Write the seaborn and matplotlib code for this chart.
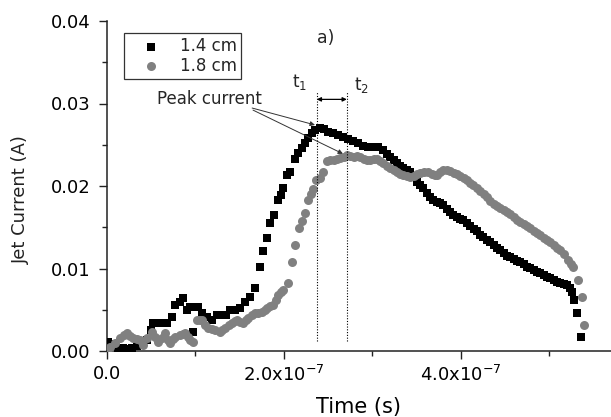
import matplotlib
matplotlib.use("Agg")
import matplotlib.pyplot as plt
import seaborn as sns
import pandas as pd
from matplotlib.ticker import MultipleLocator, FixedLocator

# ---- data (time in units of 1e-7 s, current in A) ----
t_14 = [0.011, 0.068, 0.124, 0.181, 0.237, 0.282, 0.339, 0.395, 0.452, 0.497,
        0.520, 0.576, 0.621, 0.678, 0.734, 0.768, 0.825, 0.859, 0.904, 0.938,
        0.972, 1.028, 1.073, 1.130, 1.186, 1.243, 1.299, 1.345, 1.390, 1.446,
        1.503, 1.559, 1.616, 1.672, 1.729, 1.763, 1.808, 1.842, 1.887, 1.932,
        1.966, 1.989, 2.034, 2.068, 2.124, 2.158, 2.203, 2.237, 2.271, 2.316,
        2.350, 2.407, 2.452, 2.497, 2.554, 2.610, 2.667, 2.723, 2.780, 2.836,
        2.893, 2.949, 3.006, 3.062, 3.119, 3.164, 3.198, 3.243, 3.277, 3.311,
        3.345, 3.390, 3.424, 3.458, 3.503, 3.537, 3.571, 3.616, 3.650, 3.684,
        3.729, 3.763, 3.797, 3.842, 3.876, 3.910, 3.955, 3.989, 4.023, 4.068,
        4.102, 4.147, 4.181, 4.215, 4.249, 4.294, 4.328, 4.373, 4.407, 4.441,
        4.486, 4.520, 4.554, 4.599, 4.633, 4.667, 4.712, 4.746, 4.780, 4.825,
        4.859, 4.893, 4.938, 4.972, 5.006, 5.051, 5.085, 5.119, 5.164, 5.198,
        5.232, 5.254, 5.277, 5.311, 5.356]
i_14 = [0.00109, 0.00085, 0.00036, 0.00036, 0.00024, 0.00036, 0.00061, 0.00109, 0.00133, 0.00255,
        0.00339, 0.00339, 0.00339, 0.00339, 0.00412, 0.00558, 0.00594, 0.00642, 0.00497, 0.00533,
        0.00230, 0.00533, 0.00461, 0.00412, 0.00376, 0.00436, 0.00436, 0.00436, 0.00497, 0.00497,
        0.00521, 0.00594, 0.00655, 0.00764, 0.01018, 0.01212, 0.01370, 0.01552, 0.01648, 0.01830,
        0.01891, 0.01976, 0.02133, 0.02170, 0.02327, 0.02400, 0.02461, 0.02521, 0.02582, 0.02642,
        0.02679, 0.02703, 0.02691, 0.02655, 0.02642, 0.02618, 0.02594, 0.02570, 0.02545, 0.02521,
        0.02485, 0.02473, 0.02473, 0.02473, 0.02436, 0.02388, 0.02352, 0.02315, 0.02279, 0.02242,
        0.02218, 0.02194, 0.02170, 0.02109, 0.02048, 0.02012, 0.01976, 0.01915, 0.01867, 0.01830,
        0.01806, 0.01794, 0.01770, 0.01721, 0.01685, 0.01648, 0.01624, 0.01600, 0.01588, 0.01552,
        0.01515, 0.01479, 0.01455, 0.01406, 0.01382, 0.01345, 0.01321, 0.01285, 0.01248, 0.01224,
        0.01188, 0.01152, 0.01139, 0.01115, 0.01091, 0.01079, 0.01055, 0.01018, 0.01006, 0.00982,
        0.00958, 0.00945, 0.00921, 0.00897, 0.00885, 0.00861, 0.00836, 0.00824, 0.00812, 0.00800,
        0.00764, 0.00715, 0.00618, 0.00461, 0.00170]

t_18 = [0.000, 0.034, 0.090, 0.147, 0.192, 0.226, 0.260, 0.294, 0.339, 0.373,
        0.407, 0.452, 0.508, 0.542, 0.576, 0.621, 0.655, 0.689, 0.712, 0.746,
        0.768, 0.825, 0.859, 0.881, 0.915, 0.938, 0.972, 1.017, 1.051, 1.073,
        1.107, 1.141, 1.186, 1.220, 1.277, 1.299, 1.333, 1.379, 1.412, 1.446,
        1.469, 1.503, 1.537, 1.571, 1.593, 1.638, 1.672, 1.706, 1.751, 1.785,
        1.808, 1.842, 1.876, 1.910, 1.932, 1.966, 1.989, 2.045, 2.090, 2.124,
        2.169, 2.203, 2.237, 2.271, 2.305, 2.328, 2.362, 2.407, 2.441, 2.486,
        2.520, 2.565, 2.599, 2.633, 2.678, 2.712, 2.746, 2.791, 2.825, 2.859,
        2.904, 2.938, 2.972, 3.017, 3.051, 3.085, 3.119, 3.164, 3.198, 3.243,
        3.277, 3.311, 3.345, 3.390, 3.424, 3.469, 3.503, 3.537, 3.582, 3.627,
        3.672, 3.706, 3.729, 3.763, 3.797, 3.842, 3.876, 3.921, 3.955, 3.989,
        4.034, 4.068, 4.102, 4.136, 4.181, 4.215, 4.260, 4.294, 4.328, 4.373,
        4.407, 4.441, 4.486, 4.520, 4.554, 4.599, 4.633, 4.667, 4.712, 4.746,
        4.780, 4.825, 4.859, 4.893, 4.938, 4.972, 5.006, 5.051, 5.085, 5.119,
        5.164, 5.209, 5.243, 5.266, 5.322, 5.367, 5.390]
i_18 = [0.00024, 0.00048, 0.00097, 0.00158, 0.00194, 0.00218, 0.00182, 0.00158, 0.00145, 0.00133,
        0.00073, 0.00158, 0.00230, 0.00170, 0.00109, 0.00158, 0.00218, 0.00133, 0.00097, 0.00145,
        0.00170, 0.00194, 0.00206, 0.00218, 0.00170, 0.00133, 0.00109, 0.00376, 0.00376, 0.00376,
        0.00315, 0.00279, 0.00267, 0.00255, 0.00230, 0.00255, 0.00279, 0.00315, 0.00339, 0.00364,
        0.00376, 0.00352, 0.00339, 0.00376, 0.00400, 0.00436, 0.00461, 0.00461, 0.00473, 0.00497,
        0.00521, 0.00545, 0.00558, 0.00618, 0.00679, 0.00715, 0.00739, 0.00824, 0.01079, 0.01285,
        0.01491, 0.01576, 0.01673, 0.01830, 0.01903, 0.01964, 0.02073, 0.02097, 0.02170, 0.02303,
        0.02315, 0.02315, 0.02327, 0.02339, 0.02352, 0.02376, 0.02364, 0.02352, 0.02364, 0.02352,
        0.02327, 0.02315, 0.02315, 0.02327, 0.02327, 0.02303, 0.02279, 0.02242, 0.02218, 0.02194,
        0.02170, 0.02145, 0.02133, 0.02121, 0.02109, 0.02121, 0.02145, 0.02158, 0.02170, 0.02170,
        0.02145, 0.02133, 0.02133, 0.02170, 0.02194, 0.02194, 0.02182, 0.02158, 0.02145, 0.02121,
        0.02097, 0.02073, 0.02036, 0.02012, 0.01976, 0.01939, 0.01903, 0.01867, 0.01818, 0.01782,
        0.01758, 0.01733, 0.01709, 0.01685, 0.01661, 0.01624, 0.01588, 0.01564, 0.01539, 0.01515,
        0.01491, 0.01455, 0.01430, 0.01406, 0.01370, 0.01345, 0.01321, 0.01285, 0.01248, 0.01224,
        0.01176, 0.01103, 0.01055, 0.01018, 0.00861, 0.00655, 0.00315]

legend_labels = ["1.4 cm", "1.8 cm"]
x_tick_vals = [0, 2, 4]
x_tick_labels = ["0.0", "2.0x10$^{-7}$", "4.0x10$^{-7}$"]
y_tick_vals = [0.00, 0.01, 0.02, 0.03, 0.04]
y_tick_labels = ["0.00", "0.01", "0.02", "0.03", "0.04"]
t1_pos, t2_pos = 2.37, 2.71

sns.set_style("ticks")
plt.rcParams["font.family"] = ["DejaVu Sans"]
plt.rcParams["mathtext.fontset"] = "dejavusans"

df14 = pd.DataFrame({"t": t_14, "I": i_14})
df18 = pd.DataFrame({"t": t_18, "I": i_18})

fig = plt.figure(figsize=(6.11, 4.17), dpi=100)
ax = fig.add_axes([107/611, 1-351/417, 1-107/611, 330/417])

sns.scatterplot(data=df14, x="t", y="I", marker="s", color="black", s=32,
                linewidth=0, ax=ax, label=legend_labels[0], zorder=3)
sns.scatterplot(data=df18, x="t", y="I", marker="o", color="#808080", s=42,
                linewidth=0, ax=ax, label=legend_labels[1], zorder=4)

ax.set_xlim(0, 5.695)
ax.set_ylim(0, 0.04)
ax.set_xticks(x_tick_vals)
ax.set_xticklabels(x_tick_labels)
ax.set_yticks(y_tick_vals)
ax.set_yticklabels(y_tick_labels)
ax.xaxis.set_minor_locator(FixedLocator([1, 3, 5]))
ax.yaxis.set_minor_locator(MultipleLocator(0.005))
ax.tick_params(axis="both", which="major", direction="out", length=5.8, width=1.0,
               labelsize=13, colors="#222222", labelcolor="black", pad=4.0)
ax.tick_params(axis="both", which="minor", direction="out", length=3.5, width=1.0,
               colors="#222222")
ax.tick_params(axis="y", which="major", pad=6.0)
for sp in ["top", "right"]:
    ax.spines[sp].set_visible(False)
for sp in ["left", "bottom"]:
    ax.spines[sp].set_linewidth(1.1)
    ax.spines[sp].set_color("#222222")

ax.set_xlabel("Time (s)", fontsize=15, color="black")
ax.set_ylabel("Jet Current (A)", fontsize=13, color="#222222")
ax.xaxis.set_label_coords(0.5, -0.14)
ax.yaxis.set_label_coords(-0.153, 0.458)

leg = ax.legend(loc="upper left", bbox_to_anchor=(0.0337, 0.9636), borderaxespad=0,
                frameon=True, fancybox=False, fontsize=12, handletextpad=0.3,
                borderpad=0.25, labelspacing=0.1, markerscale=1.0, handlelength=2.8)
leg.get_frame().set_edgecolor("black")
leg.get_frame().set_linewidth(0.9)

# annotations
ax.text(2.37, 0.0379, "a)", fontsize=12.5, va="center", ha="left")
for xv in (t1_pos, t2_pos):
    ax.plot([xv, xv], [0.0012, 0.0314], ls=(0, (1, 1.5)), color="black", lw=0.8, zorder=5)
ax.annotate("", xy=(t2_pos, 0.0305), xytext=(t1_pos, 0.0305),
            arrowprops=dict(arrowstyle="<|-|>", color="black", lw=0.9,
                            mutation_scale=6, shrinkA=0, shrinkB=0))
ax.text(2.17, 0.0326, "t$_1$", fontsize=12, va="center", ha="center")
ax.text(2.88, 0.0322, "t$_2$", fontsize=12, va="center", ha="center")
ax.text(0.565, 0.0305, "Peak current", fontsize=12, va="center", ha="left")
ax.annotate("", xy=(2.35, 0.0274), xytext=(1.64, 0.02945),
            arrowprops=dict(arrowstyle="-|>", color="#333333", lw=0.7,
                            mutation_scale=7, shrinkA=0, shrinkB=0))
ax.annotate("", xy=(2.667, 0.0239), xytext=(1.65, 0.0292),
            arrowprops=dict(arrowstyle="-|>", color="#333333", lw=0.7,
                            mutation_scale=7, shrinkA=0, shrinkB=0))

fig.savefig("out.png", dpi=100)
